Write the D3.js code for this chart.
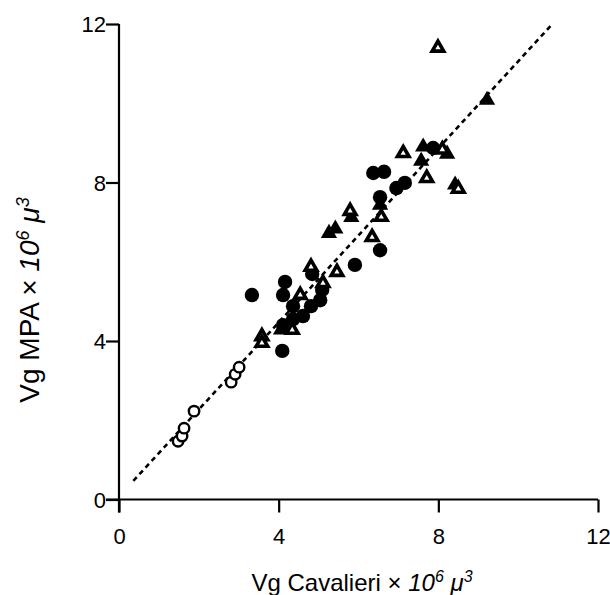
<!DOCTYPE html>
<html>

<head>
    <meta charset='utf-8'>
    <title>Vg MPA vs Cavalieri</title>
    <script type="text/javascript" src="https://cdnjs.cloudflare.com/ajax/libs/d3/7.8.5/d3.min.js"></script>
    <style>
        body { margin: 0; background: #fff; }
        text { font-family: "Liberation Sans", Arial, sans-serif; fill: #000; }
    </style>
</head>

<body>
    <script>
        // values (x = Cavalieri, y = MPA, both x 10^6 µ^3)
        const openCircles = [
            [1.48, 1.47], [1.58, 1.60], [1.63, 1.80], [1.88, 2.23],
            [2.81, 2.96], [2.91, 3.16], [3.01, 3.34]
        ];
        const filledCircles = [
            [3.33, 5.16], [4.16, 5.49], [4.11, 5.16], [4.09, 3.75], [4.11, 4.40],
            [4.36, 4.55], [4.61, 4.63], [4.81, 4.88], [5.04, 5.03], [5.09, 5.29],
            [4.36, 4.88], [4.84, 5.69], [5.91, 5.92], [6.54, 6.29], [6.37, 8.24],
            [6.64, 8.27], [6.54, 7.63], [6.95, 7.86], [7.16, 7.99], [7.87, 8.87]
        ];
        const filledTriangles = [
            [9.22, 10.08], [7.62, 8.90], [8.22, 8.72], [7.57, 8.54], [8.42, 7.94],
            [5.26, 6.72], [5.42, 6.83], [6.54, 7.43], [5.82, 7.12], [4.06, 4.28]
        ];
        const openTriangles = [
            [7.99, 11.40], [8.10, 8.83], [7.12, 8.74], [7.71, 8.11], [8.50, 7.84],
            [5.79, 7.28], [6.57, 7.13], [6.34, 6.62], [4.81, 5.87], [5.46, 5.74],
            [5.11, 5.46], [4.54, 5.16], [4.34, 4.28], [3.58, 4.12], [3.58, 3.95]
        ];
        const fitLine = [[0.36, 0.47], [10.83, 11.97]];
        const xTicks = [0, 4, 8, 12];
        const yTicks = [0, 4, 8, 12];

        const w = 610;
        const h = 595;

        const xScale = d3.scaleLinear().domain([0, 12]).range([119, 598]);
        const yScale = d3.scaleLinear().domain([0, 12]).range([499.5, 24]);

        const svg = d3.select("body")
            .append("svg")
            .attr("width", w)
            .attr("height", h);

        // axes
        const xAxis = d3.axisBottom(xScale).tickValues(xTicks).tickSize(13).tickSizeOuter(0);
        const yAxis = d3.axisLeft(yScale).tickValues(yTicks).tickSize(13).tickSizeOuter(0);

        const gx = svg.append("g")
            .attr("transform", "translate(0," + yScale(0) + ")")
            .call(xAxis);
        const gy = svg.append("g")
            .attr("transform", "translate(" + xScale(0) + ",0)")
            .call(yAxis);

        [gx, gy].forEach(g => {
            g.select(".domain").attr("stroke", "#000").attr("stroke-width", 2.2);
            g.selectAll(".tick line").attr("stroke", "#000").attr("stroke-width", 2.2);
            g.selectAll(".tick text").attr("font-size", 22).attr("font-family", null);
        });
        // extend axis lines to meet the outer ticks
        gx.select(".domain").attr("d", "M" + (xScale(0) - 13) + ",0H" + xScale(12));
        gy.select(".domain").attr("d", "M0," + yScale(12) + "V" + (yScale(0) + 13));

        gx.selectAll(".tick text").attr("y", 44).attr("dy", 0);
        gy.selectAll(".tick text").attr("x", -13).attr("dy", "0.36em");

        // dashed fit line
        svg.append("line")
            .attr("x1", xScale(fitLine[0][0])).attr("y1", yScale(fitLine[0][1]))
            .attr("x2", xScale(fitLine[1][0])).attr("y2", yScale(fitLine[1][1]))
            .attr("stroke", "#000")
            .attr("stroke-width", 2.6)
            .attr("stroke-dasharray", "5,4");

        // markers
        const tri = d3.symbol().type(d3.symbolTriangle);

        svg.append("g").selectAll("circle")
            .data(openCircles)
            .enter()
            .append("circle")
            .attr("r", 5.2)
            .attr("cx", d => xScale(d[0]))
            .attr("cy", d => yScale(d[1]))
            .attr("fill", "#fff")
            .attr("stroke", "#000")
            .attr("stroke-width", 2.4);

        svg.append("g").selectAll("circle")
            .data(filledCircles)
            .enter()
            .append("circle")
            .attr("r", 7.2)
            .attr("cx", d => xScale(d[0]))
            .attr("cy", d => yScale(d[1]))
            .attr("fill", "#000");

        svg.append("g").selectAll("path")
            .data(filledTriangles)
            .enter()
            .append("path")
            .attr("d", tri.size(115)())
            .attr("transform", d => "translate(" + xScale(d[0]) + "," + yScale(d[1]) + ")")
            .attr("fill", "#000");

        svg.append("g").selectAll("path")
            .data(openTriangles)
            .enter()
            .append("path")
            .attr("d", tri.size(58)())
            .attr("transform", d => "translate(" + xScale(d[0]) + "," + yScale(d[1]) + ")")
            .attr("fill", "#fff")
            .attr("stroke", "#000")
            .attr("stroke-width", 3.6)
            .attr("stroke-linejoin", "miter");

        // axis titles
        const xTitle = svg.append("text")
            .attr("x", 362).attr("y", 591)
            .attr("text-anchor", "middle")
            .attr("font-size", 24);
        xTitle.append("tspan").text("Vg Cavalieri \u00d7 ");
        xTitle.append("tspan").attr("font-style", "italic").text("10");
        xTitle.append("tspan").attr("font-style", "italic").attr("font-size", 16).attr("dy", -9).text("6");
        xTitle.append("tspan").attr("font-style", "italic").attr("dy", 9).text(" \u03bc");
        xTitle.append("tspan").attr("font-style", "italic").attr("font-size", 16).attr("dy", -9).text("3");

        const yTitle = svg.append("text")
            .attr("transform", "translate(39,300) rotate(-90)")
            .attr("text-anchor", "middle")
            .attr("font-size", 28);
        yTitle.append("tspan").text("Vg MPA \u00d7 ");
        yTitle.append("tspan").attr("font-style", "italic").text("10");
        yTitle.append("tspan").attr("font-style", "italic").attr("font-size", 18).attr("dy", -10).text("6");
        yTitle.append("tspan").attr("font-style", "italic").attr("dy", 10).text(" \u03bc");
        yTitle.append("tspan").attr("font-style", "italic").attr("font-size", 18).attr("dy", -10).text("3");
    </script>
</body>

</html>
